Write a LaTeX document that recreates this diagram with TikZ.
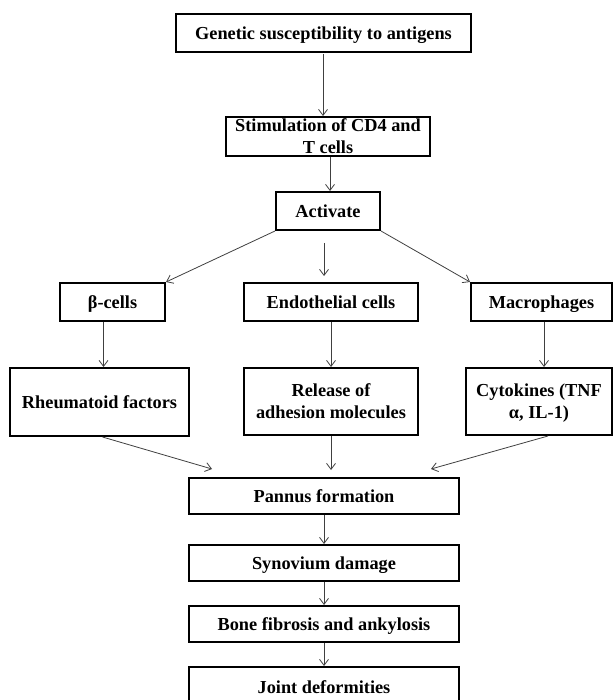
\documentclass[tikz,border=0pt]{standalone}
\usepackage{fontspec}
\setmainfont{Liberation Serif}
\usetikzlibrary{arrows.meta}
\begin{document}
\begin{tikzpicture}[x=1pt,y=-1pt,
  box/.style={draw=black,line width=2pt,fill=white,inner sep=0pt,align=center,text depth=0pt,
    font=\fontsize{18.3}{22}\selectfont\bfseries},
  arr/.style={draw=black!75,line width=0.8pt,-{Straight Barb[length=6pt,width=9pt]}}]
\useasboundingbox (0,0) rectangle (614,700);
\fill[white] (0,0) rectangle (614,700);
\clip (0,0) rectangle (614,700);
\node[box,minimum width=295pt,minimum height=38pt] (b1) at (323.5,33) {Genetic susceptibility to antigens};
\node[box,minimum width=204pt,minimum height=39pt] (b2) at (328,136.5) {Stimulation of CD4 and\\T cells};
\node[box,minimum width=104pt,minimum height=38pt] (b3) at (328,211) {Activate};
\node[box,minimum width=105pt,minimum height=38pt] (beta) at (112.5,302) {β-cells};
\node[box,minimum width=174pt,minimum height=38pt] (endo) at (331,302) {Endothelial cells};
\node[box,minimum width=141pt,minimum height=38pt] (macro) at (541.5,302) {Macrophages};
\node[box,minimum width=179pt,minimum height=68pt] (rheum) at (99.5,402) {Rheumatoid factors};
\node[box,minimum width=174pt,minimum height=67pt] (release) at (331,401.5) {Release of\\adhesion molecules};
\node[box,minimum width=146pt,minimum height=67pt] (cyto) at (539,401.5) {Cytokines (TNF\\α, IL-1)};
\node[box,minimum width=270pt,minimum height=36pt] (pannus) at (324,496) {Pannus formation};
\node[box,minimum width=270pt,minimum height=36pt] (syn) at (324,563) {Synovium damage};
\node[box,minimum width=270pt,minimum height=36pt] (bone) at (324,624) {Bone fibrosis and ankylosis};
\node[box,minimum width=270pt,minimum height=40pt] (joint) at (324,687) {Joint deformities};
\draw[arr] ([yshift=-1pt]b1.south -| 323,0) -- (323,0 |- b2.north);
\draw[arr] ([xshift=2pt]b2.south) -- ([xshift=2pt]b3.north);
\draw[arr] (b3.south west) -- (beta.north east);
\draw[arr,shorten <=12pt,shorten >=6pt] ([xshift=-4pt]b3.south) -- ([xshift=-7pt]endo.north);
\draw[arr] (b3.south east) -- (macro.north west);
\draw[arr] ([xshift=-9pt]beta.south) -- ([xshift=-9pt]beta.south |- rheum.north);
\draw[arr] (endo.south) -- (release.north);
\draw[arr] ([xshift=2.5pt]macro.south) -- ([xshift=2.5pt]macro.south |- cyto.north);
\draw[arr] ([xshift=3pt]rheum.south) -- ([shift={(24pt,8pt)}]pannus.north west);
\draw[arr] (release.south) -- ([yshift=7pt]release.south |- pannus.north);
\draw[arr] ([xshift=9pt]cyto.south) -- ([shift={(-29pt,8pt)}]pannus.north east);
\draw[arr] (pannus.south) -- (syn.north);
\draw[arr] (syn.south) -- (bone.north);
\draw[arr] (bone.south) -- (joint.north);
\end{tikzpicture}
\end{document}
